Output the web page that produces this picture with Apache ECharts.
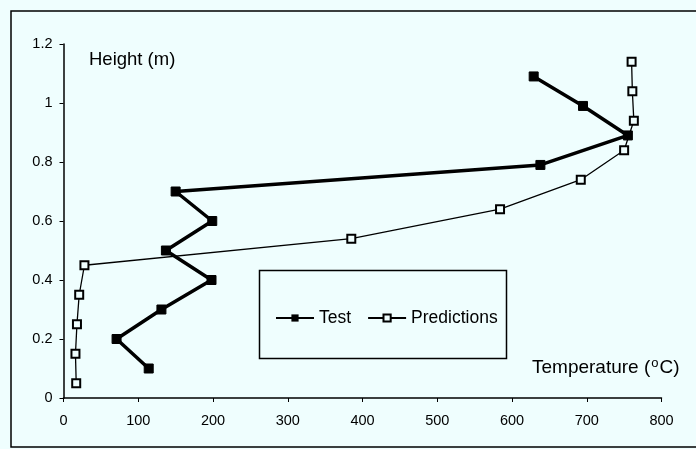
<!DOCTYPE html>
<html>
<head>
<meta charset="utf-8">
<script src="https://cdn.jsdelivr.net/npm/echarts@6/dist/echarts.min.js"></script>
<style>
  html, body { margin: 0; padding: 0; background: #effefe; }
  #chart { width: 696px; height: 449px; }
</style>
</head>
<body>
<div id="chart"></div>
<script>
// Measured temperature profile vs. model predictions (temperature in °C, height in m)
var testTemp   = [114, 71, 131, 198, 137, 199, 150, 638, 755, 695, 629];
var testHeight = [0.10, 0.20, 0.30, 0.40, 0.50, 0.60, 0.70, 0.79, 0.89, 0.99, 1.09];

var predTemp   = [17, 16, 18, 21, 28, 385, 584, 692, 750, 763, 761, 760];
var predHeight = [0.05, 0.15, 0.25, 0.35, 0.45, 0.54, 0.64, 0.74, 0.84, 0.94, 1.04, 1.14];

var xTicks = { min: 0, max: 800, interval: 100 };
var yTicks = { min: 0, max: 1.2, interval: 0.2 };

var BG = '#effefe';
var FONT = 'Liberation Sans, Arial, sans-serif';

function pairs(xs, ys) {
  return xs.map(function (x, i) { return [x, ys[i]]; });
}

var chart = echarts.init(document.getElementById('chart'), null, { renderer: 'canvas' });

var axisCommon = {
  type: 'value',
  splitLine: { show: false },
  axisLine: { show: true, onZero: false, lineStyle: { color: '#000', width: 1.5 } },
  axisTick: { show: true, inside: false, length: 4, lineStyle: { color: '#000', width: 1 } },
  axisLabel: { color: '#000', fontSize: 14.5, fontFamily: FONT }
};

chart.setOption({
  backgroundColor: BG,
  animation: false,
  grid: { left: 63.5, right: 34.5, top: 44, bottom: 51, containLabel: false },
  xAxis: Object.assign({}, axisCommon, {
    min: xTicks.min, max: xTicks.max, interval: xTicks.interval,
    axisLabel: Object.assign({}, axisCommon.axisLabel, { margin: 15 })
  }),
  yAxis: Object.assign({}, axisCommon, {
    min: yTicks.min, max: yTicks.max, interval: yTicks.interval,
    axisLabel: Object.assign({}, axisCommon.axisLabel, { margin: 11 })
  }),
  legend: {
    left: 270, top: 304,
    itemWidth: 38, itemHeight: 9, itemGap: 16,
    textStyle: { color: '#000', fontSize: 17.5, fontFamily: FONT, padding: [0, 0, 0, 0] },
    data: ['Test', 'Predictions']
  },
  graphic: [
    {
      type: 'rect', z: 0, silent: true,
      shape: { x: 11, y: 11, width: 700, height: 436 },
      style: { fill: null, stroke: '#000', lineWidth: 1.5 }
    },
    {
      type: 'rect', z: 1, silent: true,
      shape: { x: 259.5, y: 270.5, width: 247, height: 88 },
      style: { fill: BG, stroke: '#000', lineWidth: 1.5 }
    },
    {
      type: 'text', z: 5, left: 89, top: 50,
      style: { text: 'Height (m)', fill: '#000', fontSize: 18.5, fontFamily: FONT }
    },
    {
      type: 'text', z: 5, left: 532, top: 357,
      style: {
        text: 'Temperature ({sup|o}C)',
        fill: '#000', fontSize: 19, fontFamily: FONT,
        rich: {
          sup: { fontSize: 13, fontFamily: FONT, fill: '#000', verticalAlign: 'top', padding: [0, 1, 9, 1] }
        }
      }
    }
  ],
  series: [
    {
      name: 'Test', type: 'line', z: 4,
      data: pairs(testTemp, testHeight),
      symbol: 'rect', symbolSize: 9,
      lineStyle: { color: '#000', width: 3.5 },
      itemStyle: { color: '#000', borderColor: '#000' }
    },
    {
      name: 'Predictions', type: 'line', z: 3,
      data: pairs(predTemp, predHeight),
      symbol: 'rect', symbolSize: 8,
      lineStyle: { color: '#000', width: 1.3 },
      itemStyle: { color: BG, borderColor: '#000', borderWidth: 2 }
    }
  ]
});
</script>
</body>
</html>
